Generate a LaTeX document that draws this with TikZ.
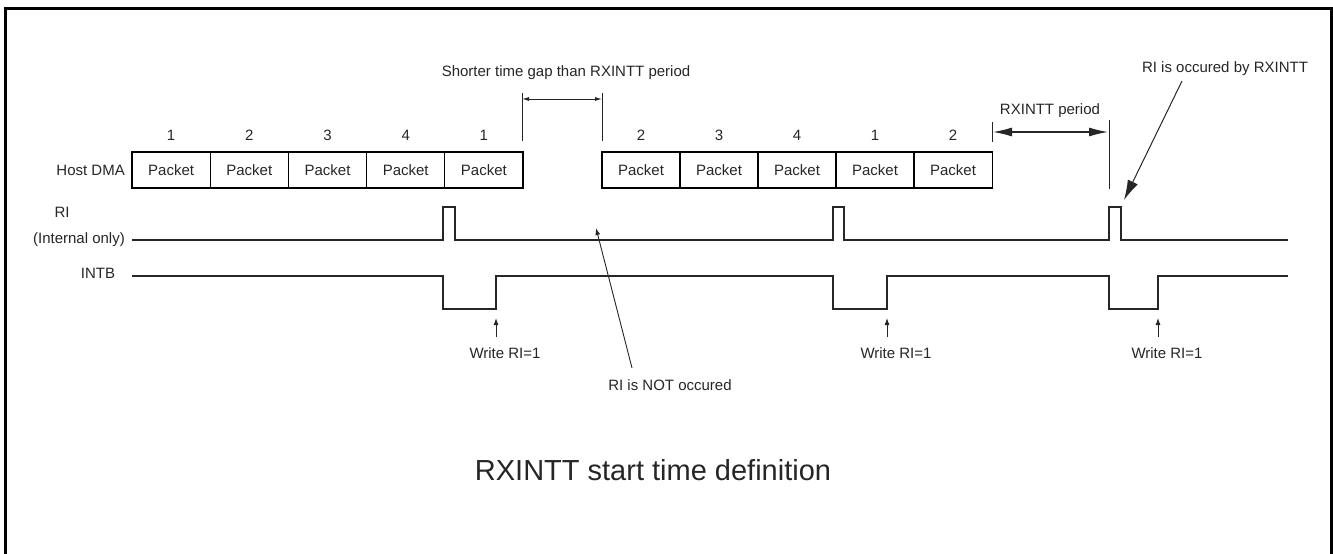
\documentclass[tikz,border=0pt]{standalone}
\usepackage{fontspec}
\setmainfont{Liberation Sans}
\usetikzlibrary{arrows.meta}
\begin{document}
\begin{tikzpicture}[x=1pt,y=-1pt,
  every node/.style={font=\fontsize{15}{18}\selectfont, inner sep=0pt, text=black!85},
  pkt/.style={draw=black, line width=1.2pt, minimum width=78.2pt, minimum height=36pt},
  wave/.style={line width=1.2pt, black!85},
  tick/.style={line width=1pt, black!85},
  smallarrow/.style={line width=0.9pt, black!85, -{Latex[length=7pt,width=5pt]}},
  dimsmall/.style={line width=0.9pt, black!85, {Latex[length=7pt,width=4pt]}-{Latex[length=7pt,width=4pt]}},
  dimbig/.style={line width=1.2pt, black!85, {Latex[length=19pt,width=9pt]}-{Latex[length=19pt,width=9pt]}},
  bigarrow/.style={line width=1pt, black!85, -{Latex[length=20pt,width=11pt]}},
  titlefont/.style={font=\fontsize{29}{34}\selectfont}]
\useasboundingbox (0,0) rectangle (1333,554);
% frame
\draw[line width=3pt] (5,556) -- (5,8) -- (1331,8) -- (1331,556);

% packets, group 1
\foreach \i/\c/\n in {1/171.1/1, 2/249.3/2, 3/327.5/3, 4/405.7/4, 5/483.9/1}{
  \node[pkt] (a\i) at (\c,170) {Packet};
  \node (na\i) at (\c,135) {\n};
}
% packets, group 2
\foreach \i/\c/\n in {1/641/2, 2/719/3, 3/797/4, 4/875/1, 5/953/2}{
  \node[pkt] (b\i) at (\c,170) {Packet};
  \node (nb\i) at (\c,135) {\n};
}

% row labels
\node[anchor=east] (lhost) at (125,170) {Host DMA};
\node (lri) at (62,212) {RI};
\node[anchor=east] (lint) at (125,240) {(Internal only)};
\node (lintb) at (98,273) {INTB};

% RI waveform
\coordinate (riS) at (132,240);
\coordinate (riE) at (1288,240);
\draw[wave] (riS) -- (443,240) -- (443,207) -- (455,207) -- (455,240)
  -- (833,240) -- (833,207) -- (844,207) -- (844,240)
  -- (1109,240) -- (1109,207) -- (1121,207) -- (1121,240) -- (riE);
\coordinate (p3) at (1124,200);

% INTB waveform
\coordinate (inS) at (132,276);
\coordinate (inE) at (1288,276);
\draw[wave] (inS) -- (443,276) -- (443,309) -- (496,309) -- (496,276)
  -- (833,276) -- (833,309) -- (887,309) -- (887,276)
  -- (1109,276) -- (1109,309) -- (1158,309) -- (1158,276) -- (inE);

% Write RI=1
\foreach \k/\x in {1/496, 2/887, 3/1158}{
  \coordinate (wa\k) at (\x,337);
  \coordinate (wt\k) at (\x,318);
  \draw[smallarrow] (wa\k) -- (wt\k);
  \node (w\k) at (\x+9,353) {Write RI=1};
}

% shorter time gap
\coordinate (t1a) at (522,93);  \coordinate (t1b) at (522,141);
\coordinate (t2a) at (602,93);  \coordinate (t2b) at (602,141);
\draw[tick] (t1a) -- (t1b);
\draw[tick] (t2a) -- (t2b);
\coordinate (g1) at (522,99); \coordinate (g2) at (602,99);
\draw[dimsmall] (g1) -- (g2);
\node (short) at (566,73) {Shorter time gap than RXINTT period};

% RI is NOT occured
\node (notocc) at (670,385) {RI is NOT occured};
\coordinate (nA) at (632,368);
\coordinate (nT) at (596,228);
\draw[smallarrow] (nA) -- (nT);

% RXINTT period
\coordinate (t3a) at (992,122); \coordinate (t3b) at (992,142);
\coordinate (t4a) at (1109,120); \coordinate (t4b) at (1109,189);
\draw[tick] (t3a) -- (t3b);
\draw[tick] (t4a) -- (t4b);
\coordinate (r1) at (993,132); \coordinate (r2) at (1108,132);
\draw[dimbig] (r1) -- (r2);
\node (period) at (1050,111) {RXINTT period};

% RI is occured by RXINTT
\node (occ) at (1225,69) {RI is occured by RXINTT};
\coordinate (oA) at (1182,81);
\draw[bigarrow] (oA) -- (p3);

% title
\node[titlefont] (title) at (653,470) {RXINTT start time definition};
\end{tikzpicture}
\end{document}
